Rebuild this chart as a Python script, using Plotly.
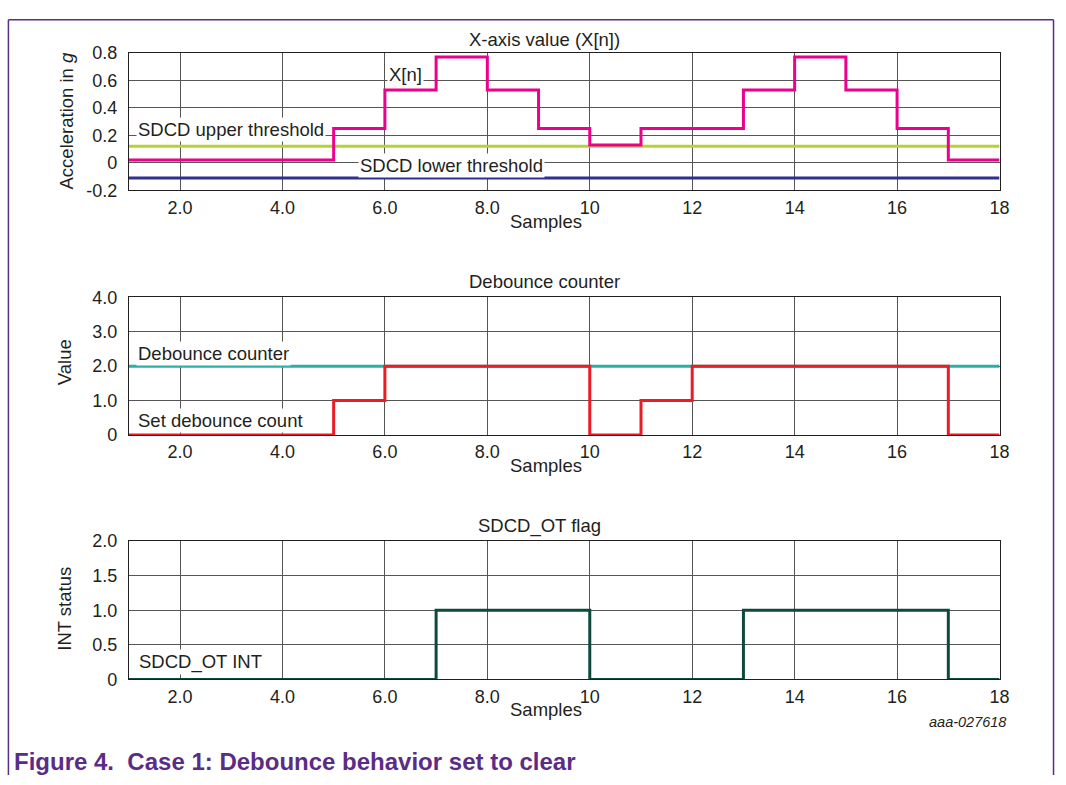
import plotly.graph_objects as go

# ---------------- data ----------------
samples = list(range(1, 19))
xn_values = [0.02, 0.02, 0.02, 0.02, 0.25, 0.53, 0.77, 0.53, 0.25, 0.13,
             0.25, 0.25, 0.53, 0.77, 0.53, 0.25, 0.02, 0.02]
upper_threshold = [0.12] * 18
lower_threshold = [-0.11] * 18

debounce_counter = [0, 0, 0, 0, 1, 2, 2, 2, 2, 0, 1, 2, 2, 2, 2, 2, 0, 0]
set_debounce_count = [2.0] * 18

int_flag = [0, 0, 0, 0, 0, 0, 1, 1, 1, 0, 0, 0, 1, 1, 1, 1, 0, 0]

x_tickvals = [2, 4, 6, 8, 10, 12, 14, 16, 18]
x_ticktext = ["2.0", "4.0", "6.0", "8.0", "10", "12", "14", "16", "18"]
y1_tickvals = [-0.2, 0, 0.2, 0.4, 0.6, 0.8]
y1_ticktext = ["-0.2", "0", "0.2", "0.4", "0.6", "0.8"]
y2_tickvals = [0, 1, 2, 3, 4]
y2_ticktext = ["0", "1.0", "2.0", "3.0", "4.0"]
y3_tickvals = [0, 0.5, 1, 1.5, 2]
y3_ticktext = ["0", "0.5", "1.0", "1.5", "2.0"]

# ---------------- figure ----------------
W, H = 1066, 785
FONT = "Liberation Sans, Arial, sans-serif"
TXT = "#231f20"
PURPLE = "#5b2c86"
FS = 18.5


def px(x):
    return x / W


def py(y):
    return 1 - y / H


fig = go.Figure()

fig.add_trace(go.Scatter(x=samples, y=upper_threshold, mode="lines",
                         line=dict(color="#b5d334", width=3), xaxis="x", yaxis="y"))
fig.add_trace(go.Scatter(x=samples, y=lower_threshold, mode="lines",
                         line=dict(color="#2e3192", width=3), xaxis="x", yaxis="y"))
fig.add_trace(go.Scatter(x=samples, y=xn_values, mode="lines", line_shape="hv",
                         line=dict(color="#ec008c", width=3), xaxis="x", yaxis="y"))

fig.add_trace(go.Scatter(x=samples, y=set_debounce_count, mode="lines",
                         line=dict(color="#2ab0a5", width=3), xaxis="x2", yaxis="y2"))
fig.add_trace(go.Scatter(x=samples, y=debounce_counter, mode="lines", line_shape="hv",
                         line=dict(color="#ed1c24", width=3), xaxis="x2", yaxis="y2"))

fig.add_trace(go.Scatter(x=samples, y=int_flag, mode="lines", line_shape="hv",
                         line=dict(color="#0d4a3c", width=3), xaxis="x3", yaxis="y3"))

xdom = [px(130), px(1009)]
common_x = dict(range=[1, 18], domain=xdom, tickvals=x_tickvals, ticktext=x_ticktext,
                showgrid=True, gridcolor="#555555", gridwidth=1, zeroline=False,
                showline=True, linecolor="#231f20", linewidth=1, mirror=True,
                tickfont=dict(family=FONT, size=18, color=TXT), ticks="",
                ticklabelstandoff=1)
common_y = dict(showgrid=True, gridcolor="#555555", gridwidth=1, zeroline=False,
                showline=True, linecolor="#231f20", linewidth=1, mirror=True,
                tickfont=dict(family=FONT, size=18, color=TXT), ticks="",
                ticklabelstandoff=7)

fig.update_layout(
    width=W, height=H, margin=dict(l=0, r=0, t=0, b=0),
    paper_bgcolor="white", plot_bgcolor="white", showlegend=False,
    font=dict(family=FONT, color=TXT),
    xaxis=dict(common_x, anchor="y"),
    xaxis2=dict(common_x, anchor="y2"),
    xaxis3=dict(common_x, anchor="y3"),
    yaxis=dict(common_y, anchor="x", domain=[py(185), py(44)], range=[-0.2, 0.8],
               tickvals=y1_tickvals, ticktext=y1_ticktext),
    yaxis2=dict(common_y, anchor="x2", domain=[py(436), py(295)], range=[0, 4],
                tickvals=y2_tickvals, ticktext=y2_ticktext),
    yaxis3=dict(common_y, anchor="x3", domain=[py(687), py(545)], range=[0, 2],
                tickvals=y3_tickvals, ticktext=y3_ticktext),
)

ann = []


def paper_text(text, x, y, size=FS, xanchor="center", angle=0, color=TXT, **kw):
    ann.append(dict(text=text, x=px(x), y=py(y), xref="paper", yref="paper",
                    xanchor=xanchor, yanchor="middle", showarrow=False, textangle=angle,
                    font=dict(family=FONT, size=size, color=color), **kw))


# titles
paper_text("X-axis value (X[n])", 550, 30)
paper_text("Debounce counter", 550, 279)
paper_text("SDCD_OT flag", 545, 529)
for yy in (217, 467, 718):
    paper_text("Samples", 551, yy)
paper_text("Acceleration in <i>g</i>", 67, 114, angle=-90)
paper_text("Value", 65, 361, angle=-90)
paper_text("INT status", 65, 614, angle=-90)

# in-plot labels


def data_text(text, x, y, xr, yr):
    ann.append(dict(text=text, x=x, y=y, xref=xr, yref=yr, xanchor="left", yanchor="middle",
                    showarrow=False, bgcolor="white", borderpad=1,
                    font=dict(family=FONT, size=FS, color=TXT)))


data_text("SDCD upper threshold", 1.15, 0.24, "x", "y")
data_text("SDCD lower threshold", 5.48, -0.02, "x", "y")
data_text("X[n]", 6.05, 0.645, "x", "y")
data_text("Debounce counter", 1.15, 2.38, "x2", "y2")
data_text("Set debounce count", 1.15, 0.43, "x2", "y2")
data_text("SDCD_OT INT", 1.17, 0.25, "x3", "y3")

paper_text("<i>aaa-027618</i>", 1018, 731, size=14.5, xanchor="right")
paper_text("<b>Figure 4.\u00a0 Case 1: Debounce behavior set to clear</b>", 12, 771,
           size=24, xanchor="left", color=PURPLE)

fig.update_layout(annotations=ann)

# purple frame
for x0, y0, x1, y1 in [(px(8.5), 0, px(8.5), py(10)),
                       (px(8.5), py(10), px(1063.5), py(10)),
                       (px(1063.5), 0, px(1063.5), py(10))]:
    fig.add_shape(type="line", xref="paper", yref="paper", x0=x0, y0=y0, x1=x1, y1=y1,
                  line=dict(color=PURPLE, width=1.5))

fig.write_html("out.html")
